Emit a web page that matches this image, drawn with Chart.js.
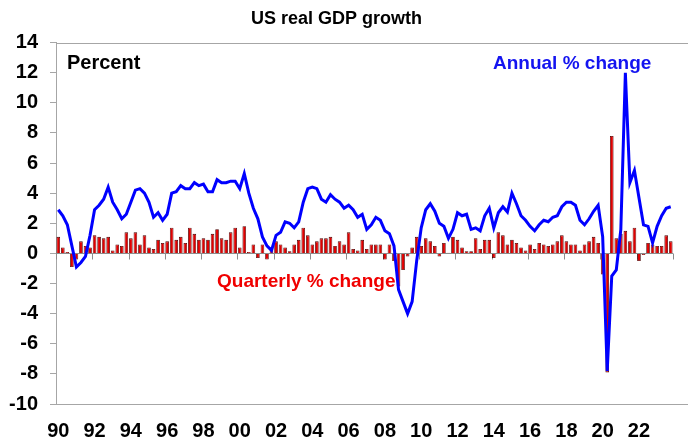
<!DOCTYPE html>
<html>
<head>
<meta charset="utf-8">
<script src="https://cdn.jsdelivr.net/npm/chart.js@4/dist/chart.umd.min.js"></script>
<style>
  html, body { margin: 0; padding: 0; background: #fff; }
  #wrap { width: 688px; height: 439px; }
</style>
</head>
<body>
<div id="wrap"><canvas id="gdpChart" width="688" height="439"></canvas></div>
<script>
// Data: US real GDP, 1990 Q1 to 2023 Q4
const firstYear = 1990;
const lastYear = 2023;

// quarterly % change (bars)
const quarterlyChange = [
  1.1, 0.4, 0.1, -0.9,
  -0.4, 0.8, 0.5, 0.4,
  1.2, 1.1, 1.0, 1.1,
  0.2, 0.6, 0.5, 1.4,
  1.0, 1.4, 0.6, 1.2,
  0.4, 0.3, 0.9, 0.7,
  0.8, 1.7, 0.9, 1.1,
  0.7, 1.7, 1.3, 0.9,
  1.0, 0.9, 1.3, 1.6,
  1.0, 0.9, 1.4, 1.7,
  0.4, 1.8, 0.1, 0.6,
  -0.3, 0.6, -0.4, 0.4,
  0.8, 0.6, 0.4, 0.15,
  0.6, 0.9, 1.7, 1.2,
  0.6, 0.8, 1.0, 1.0,
  1.1, 0.5, 0.8, 0.6,
  1.4, 0.3, 0.2, 0.9,
  0.3, 0.6, 0.6, 0.6,
  -0.4, 0.6, -0.5, -2.2,
  -1.1, -0.2, 0.4, 1.1,
  0.5, 1.0, 0.8, 0.5,
  -0.2, 0.7, 0.05, 1.1,
  0.9, 0.4, 0.15, 0.15,
  1.0, 0.3, 0.9, 0.9,
  -0.3, 1.4, 1.2, 0.6,
  0.9, 0.7, 0.4, 0.2,
  0.6, 0.3, 0.7, 0.6,
  0.5, 0.6, 0.8, 1.2,
  0.8, 0.6, 0.6, 0.2,
  0.6, 0.8, 1.1, 0.7,
  -1.4, -7.9, 7.8, 1.0,
  1.3, 1.5, 0.8, 1.7,
  -0.5, -0.1, 0.7, 0.6,
  0.5, 0.5, 1.2, 0.8
];

// annual % change (line)
const annualChange = [
  2.9, 2.5, 1.9, 0.5,
  -0.9, -0.6, -0.2, 1.2,
  2.9, 3.2, 3.6, 4.4,
  3.4, 2.9, 2.3, 2.6,
  3.4, 4.2, 4.3, 4.0,
  3.4, 2.4, 2.7, 2.2,
  2.6, 4.0, 4.1, 4.5,
  4.3, 4.3, 4.7, 4.5,
  4.6, 4.1, 4.1, 4.9,
  4.7, 4.7, 4.8, 4.8,
  4.3, 5.3, 4.0, 3.0,
  2.3, 1.1, 0.5, 0.2,
  1.2, 1.4, 2.1, 2.0,
  1.7, 2.1, 3.4, 4.3,
  4.4, 4.3, 3.6, 3.4,
  3.9, 3.6, 3.4, 3.0,
  3.2, 2.9, 2.4, 2.6,
  1.6, 1.9, 2.4, 2.2,
  1.5, 1.3, 0.5, -2.4,
  -3.2, -4.0, -3.2, -0.5,
  1.7, 2.9, 3.3, 2.8,
  2.0, 1.8, 1.0, 1.6,
  2.7, 2.5, 2.6, 1.6,
  1.7, 1.5, 2.5, 3.0,
  1.7, 2.7, 3.1, 2.75,
  4.0, 3.3, 2.5, 2.2,
  1.8, 1.5, 1.9, 2.2,
  2.1, 2.4, 2.5, 3.1,
  3.4, 3.4, 3.2, 2.2,
  1.9, 2.3, 2.8, 3.2,
  1.1, -7.8, -1.5, -1.1,
  1.6, 12.0, 4.7, 5.5,
  3.7, 1.9, 1.8, 0.7,
  1.8, 2.5, 3.0, 3.1
];

// y axis range
const yMin = -10;
const yMax = 14;
const yStep = 2;

// quarter labels, x tick every 2 years
const quarterLabels = [];
for (let y = firstYear; y <= lastYear; y++) {
  for (let q = 1; q <= 4; q++) quarterLabels.push(y + ' Q' + q);
}
const labelEvery = 8;

const fontFamily = '"Liberation Sans", Arial, sans-serif';

// borders, zero line and text labels
const decorPlugin = {
  id: 'decor',
  beforeDatasetsDraw(chart) {
    const ctx = chart.ctx;
    const area = chart.chartArea;
    const xs = chart.scales.x;
    const ys = chart.scales.y;
    ctx.save();
    ctx.lineWidth = 1;
    ctx.strokeStyle = '#a6a6a6';
    ctx.beginPath();
    ctx.moveTo(area.left, Math.round(area.top) + 0.5);
    ctx.lineTo(chart.width, Math.round(area.top) + 0.5);
    ctx.moveTo(area.left, Math.round(area.bottom) + 0.5);
    ctx.lineTo(chart.width, Math.round(area.bottom) + 0.5);
    ctx.stroke();

    // x axis line through zero
    const y0 = Math.round(ys.getPixelForValue(0)) + 0.5;
    const slot = (area.right - area.left) / quarterLabels.length;
    ctx.strokeStyle = '#8c8c8c';
    ctx.beginPath();
    ctx.moveTo(area.left, y0);
    ctx.lineTo(area.right, y0);
    for (let k = 0; k <= quarterLabels.length; k += labelEvery) {
      const idx = Math.min(k, quarterLabels.length - 1);
      let x = xs.getPixelForValue(idx) + (k === quarterLabels.length ? slot / 2 : -slot / 2);
      x = Math.round(x) + 0.5;
      ctx.moveTo(x, y0);
      ctx.lineTo(x, y0 + 6);
    }
    ctx.stroke();
    ctx.restore();
  },
  afterDraw(chart) {
    const ctx = chart.ctx;
    ctx.save();
    ctx.textBaseline = 'middle';
    ctx.font = 'bold 20px ' + fontFamily;
    ctx.fillStyle = '#000';
    ctx.textAlign = 'left';
    ctx.fillText('Percent', 67, 63);
    ctx.font = 'bold 19px ' + fontFamily;
    ctx.fillStyle = '#1414f0';
    ctx.fillText('Annual % change', 493, 64);
    ctx.fillStyle = '#f00000';
    ctx.fillText('Quarterly % change', 217, 282);
    ctx.restore();
  }
};

const ctx = document.getElementById('gdpChart').getContext('2d');
const gdpChart = new Chart(ctx, {
  data: {
    labels: quarterLabels,
    datasets: [
      {
        type: 'line',
        label: 'Annual % change',
        data: annualChange,
        borderColor: '#0000ff',
        borderWidth: 3,
        pointRadius: 0,
        tension: 0,
        order: 1
      },
      {
        type: 'bar',
        label: 'Quarterly % change',
        data: quarterlyChange,
        backgroundColor: '#e00000',
        borderColor: '#4a0000',
        borderWidth: 0.8,
        barPercentage: 0.8,
        categoryPercentage: 1.0,
        order: 2
      }
    ]
  },
  options: {
    responsive: false,
    animation: false,
    devicePixelRatio: 1,
    layout: { padding: { left: 0, right: 15, top: 0, bottom: 0 } },
    plugins: {
      legend: { display: false },
      tooltip: { enabled: false },
      title: {
        display: true,
        text: 'US real GDP growth',
        color: '#000',
        font: { family: fontFamily, size: 18, weight: 'bold' },
        padding: { top: 8, bottom: 13 }
      }
    },
    scales: {
      x: {
        type: 'category',
        offset: true,
        grid: { display: false },
        border: { display: false },
        ticks: {
          autoSkip: false,
          maxRotation: 0,
          minRotation: 0,
          padding: 7,
          color: '#000',
          font: { family: fontFamily, size: 20, weight: 'bold' },
          callback: (value, index) => index % labelEvery === 0 ? String(firstYear + index / 4).slice(2) : null
        },
        afterFit: (scale) => { scale.height = 35; }
      },
      y: {
        min: yMin,
        max: yMax,
        grid: {
          drawOnChartArea: false,
          drawTicks: true,
          tickLength: 6,
          color: '#a6a6a6'
        },
        border: { display: true, color: '#a6a6a6', width: 1 },
        ticks: {
          stepSize: yStep,
          padding: 12,
          color: '#000',
          font: { family: fontFamily, size: 20, weight: 'bold' }
        },
        afterFit: (scale) => { scale.width = 56; }
      }
    }
  },
  plugins: [decorPlugin]
});
</script>
</body>
</html>
